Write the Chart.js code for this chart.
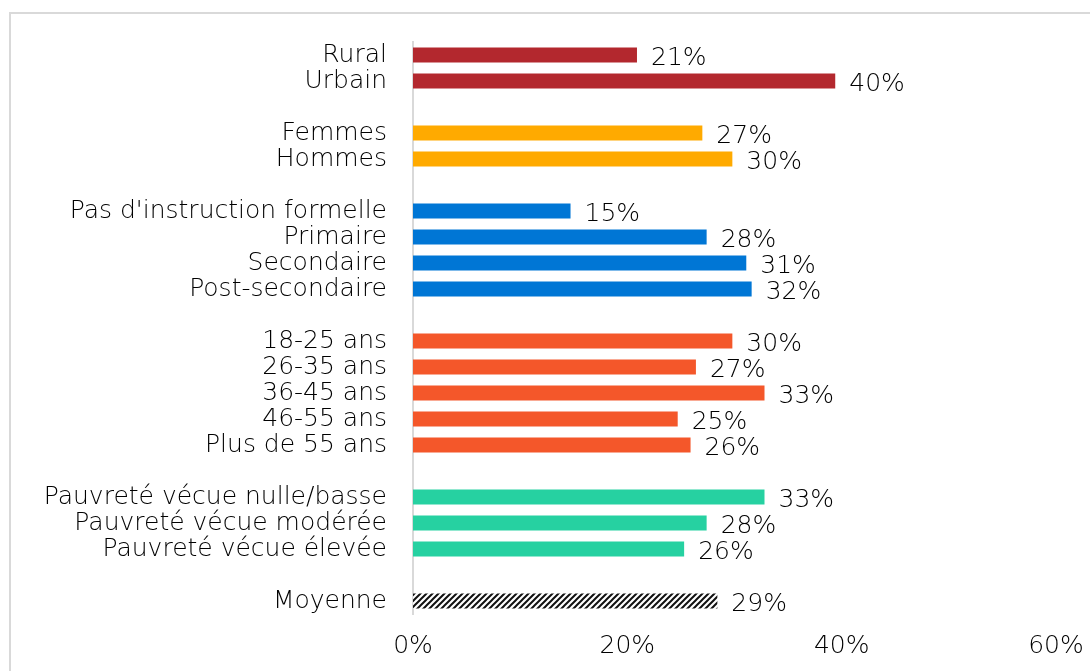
<!DOCTYPE html>
<html>
<head>
<meta charset="utf-8">
<script src="https://cdn.jsdelivr.net/npm/chart.js@4.4.1/dist/chart.umd.min.js"></script>
<style>
  html, body { margin: 0; padding: 0; background: #fff; }
  #wrap { position: relative; width: 1090px; height: 671px; }
</style>
</head>
<body>
<div id="wrap"><canvas id="grafico" width="1090" height="671"></canvas></div>
<script>
// categories (empty strings are the gaps between groups)
const categorias = [
  'Rural', 'Urbain', '',
  'Femmes', 'Hommes', '',
  "Pas d'instruction formelle", 'Primaire', 'Secondaire', 'Post-secondaire', '',
  '18-25 ans', '26-35 ans', '36-45 ans', '46-55 ans', 'Plus de 55 ans', '',
  'Pauvreté vécue nulle/basse', 'Pauvreté vécue modérée', 'Pauvreté vécue élevée', '',
  'Moyenne'
]
// values in percent
const valores = [
  20.9, 39.4, null,
  27.0, 29.8, null,
  14.7, 27.4, 31.1, 31.6, null,
  29.8, 26.4, 32.8, 24.7, 25.9, null,
  32.8, 27.4, 25.3, null,
  28.4
]
// label shown next to each bar
const rotulos = [
  '21%', '40%', '',
  '27%', '30%', '',
  '15%', '28%', '31%', '32%', '',
  '30%', '27%', '33%', '25%', '26%', '',
  '33%', '28%', '26%', '',
  '29%'
]
// group of each category
const grupos = [
  'local', 'local', '',
  'sexe', 'sexe', '',
  'educ', 'educ', 'educ', 'educ', '',
  'age', 'age', 'age', 'age', 'age', '',
  'pauv', 'pauv', 'pauv', '',
  'moy'
]
const ticksX = [0, 20, 40, 60]

const fonte = "'DejaVu Sans', sans-serif"
const peso = 200
const tam = 25
const corTexto = '#000'

// hatch for "Moyenne"
function hachura() {
  const c = document.createElement('canvas')
  c.width = 6; c.height = 6
  const g = c.getContext('2d')
  g.fillStyle = '#fff'
  g.fillRect(0, 0, 6, 6)
  g.strokeStyle = '#111'
  g.lineWidth = 2
  g.beginPath()
  g.moveTo(0, 6); g.lineTo(6, 0)
  g.moveTo(-3, 3); g.lineTo(3, -3)
  g.moveTo(3, 9); g.lineTo(9, 3)
  g.stroke()
  return g.createPattern(c, 'repeat')
}

const cores = {
  local: '#B3282E',
  sexe: '#FFAA00',
  educ: '#0076D5',
  age: '#F4572A',
  pauv: '#26D1A1',
  moy: hachura(),
  '': 'transparent'
}

// border of the picture
const moldura = {
  id: 'moldura',
  beforeDraw(chart) {
    const c = chart.ctx
    c.save()
    c.strokeStyle = '#d9d9d9'
    c.lineWidth = 2
    c.strokeRect(10, 13, 1200, 800)
    c.restore()
  }
}

// value labels to the right of each bar
const rotulosBarras = {
  id: 'rotulosBarras',
  afterDatasetsDraw(chart) {
    const c = chart.ctx
    const meta = chart.getDatasetMeta(0)
    c.save()
    c.font = peso + ' ' + tam + 'px ' + fonte
    c.fillStyle = corTexto
    c.textAlign = 'left'
    c.textBaseline = 'middle'
    meta.data.forEach((bar, i) => {
      if (!rotulos[i]) return
      c.fillText(rotulos[i], bar.x + 14, bar.y + 3)
    })
    c.restore()
  }
}

const ctx = document.getElementById('grafico')
let grafico = new Chart(ctx, {
  type: 'bar',
  data: {
    labels: categorias,
    datasets: [{
      data: valores,
      backgroundColor: grupos.map(g => cores[g]),
      barPercentage: 0.58,
      categoryPercentage: 1
    }]
  },
  options: {
    indexAxis: 'y',
    responsive: false,
    animation: false,
    layout: { padding: { top: 42, left: 0, right: 0, bottom: 0 } },
    plugins: {
      legend: { display: false },
      tooltip: { enabled: false }
    },
    scales: {
      y: {
        grid: { display: false },
        border: { display: true, color: '#d9d9d9', width: 2 },
        ticks: {
          autoSkip: false,
          color: corTexto,
          font: { family: fonte, size: tam, weight: peso },
          padding: 18
        },
        afterFit(scale) { scale.width = 413 }
      },
      x: {
        min: 0,
        max: 60,
        grid: { display: false, drawTicks: false },
        border: { display: false },
        afterBuildTicks(scale) { scale.ticks = ticksX.map(v => ({ value: v })) },
        ticks: {
          color: corTexto,
          font: { family: fonte, size: tam, weight: peso },
          padding: 17,
          maxRotation: 0,
          callback: v => v + '%'
        },
        afterFit(scale) {
          scale.height = 57
          scale.paddingRight = 34
          scale.paddingLeft = 0
        }
      }
    }
  },
  plugins: [moldura, rotulosBarras]
})
</script>
</body>
</html>
